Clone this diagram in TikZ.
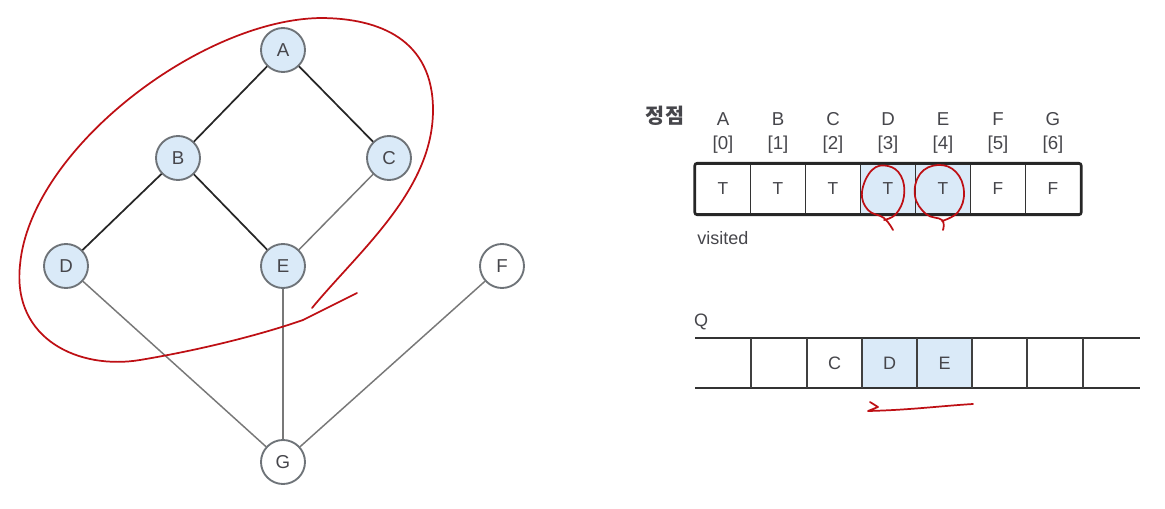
\documentclass[tikz,border=0pt]{standalone}
\usepackage{fontspec}
\setmainfont{Liberation Sans}
\newfontfamily\kr{Noto Sans CJK KR}
\definecolor{nodeblue}{RGB}{218,234,248}
\definecolor{ringgray}{RGB}{110,115,120}
\definecolor{txtgray}{RGB}{70,70,75}
\definecolor{edgegray}{RGB}{120,120,120}
\definecolor{pen}{RGB}{190,15,20}
\tikzset{
  vtx/.style={circle, draw=ringgray, line width=1.4pt, minimum size=33pt, inner sep=0pt, font=\fontsize{14}{14}\selectfont, text=txtgray},
  seen/.style={vtx, fill=nodeblue},
  unseen/.style={vtx, fill=white},
  darkedge/.style={draw=black!85, line width=1.3pt},
  lightedge/.style={draw=edgegray, line width=1.1pt},
  hdr/.style={font=\fontsize{14}{14}\selectfont, text=txtgray, inner sep=0pt},
  cellbox/.style={draw=black!80, line width=1.2pt, minimum width=41.25pt, minimum height=37.5pt, inner sep=0pt, font=\fontsize{13}{13}\selectfont, text=txtgray},
  qcell/.style={minimum width=41.25pt, minimum height=37.5pt, inner sep=0pt, font=\fontsize{13.5}{13.5}\selectfont, text=txtgray},
  redpen/.style={draw=pen, line width=1.3pt, line cap=round, line join=round}
}
\begin{document}
\begin{tikzpicture}[x=0.75pt, y=-0.75pt]
\useasboundingbox[fill=white] (0,0) rectangle (1165,508);
% graph
\node[seen] (A) at (283,50) {A};
\node[seen] (B) at (178,158) {B};
\node[seen] (C) at (389,158) {C};
\node[seen] (D) at (66,266) {D};
\node[seen] (E) at (283,266) {E};
\node[unseen] (F) at (502,266) {F};
\node[unseen] (G) at (283,462) {G};
\draw[darkedge] (A) -- (B);
\draw[darkedge] (A) -- (C);
\draw[darkedge] (B) -- (D);
\draw[darkedge] (B) -- (E);
\draw[lightedge] (C) -- (E);
\draw[lightedge] (D) -- (G);
\draw[lightedge] (E) -- (G);
\draw[lightedge] (F) -- (G);
% red loop around A-E
\draw[redpen] (312,308) .. controls (360,250) and (433,190) .. (433,110)
  .. controls (433,40) and (380,18) .. (320,18)
  .. controls (200,20) and (30,150) .. (20,265)
  .. controls (12,340) and (80,370) .. (140,360)
  .. controls (200,350) and (260,335) .. (303,320);
\draw[redpen] (303,320) -- (357,293);
% visited array
\node[font=\kr\bfseries\fontsize{15.5}{15.5}\selectfont, text=txtgray] (hd) at (665,116) {정점};
\foreach \l/\i [count=\k from 0] in {A/0,B/1,C/2,D/3,E/4,F/5,G/6}{
  \node[hdr] (n\k) at (723+55*\k,119) {\l};
  \node[hdr] (ix\k) at (723+55*\k,145) {[\i]};
}
\node[cellbox] (v0) at (723,189) {T};
\node[cellbox] (v1) at (778,189) {T};
\node[cellbox] (v2) at (833,189) {T};
\node[cellbox, fill=nodeblue] (v3) at (888,189) {T};
\node[cellbox, fill=nodeblue] (v4) at (943,189) {T};
\node[cellbox] (v5) at (998,189) {F};
\node[cellbox] (v6) at (1053,189) {F};
\draw[black!85, line width=2pt, rounded corners=2pt] (v0.north west) rectangle (v6.south east);
\node[font=\fontsize{13.5}{13.5}\selectfont, text=txtgray, anchor=west, inner sep=0pt] (vis) at (697,238) {visited};
% red loops on D and E
\draw[redpen] plot[smooth, tension=0.7] coordinates {(893,230) (884,218) (868,210) (862,192) (872,170) (888,166) (901,176) (904,196) (896,214) (884,220)};
\draw[redpen] plot[smooth, tension=0.7] coordinates {(943,230) (942,220) (926,214) (915,196) (920,174) (938,165) (956,172) (964,192) (958,212) (942,221)};
% queue
\node[font=\fontsize{13.5}{13.5}\selectfont, text=txtgray, inner sep=0pt] (Q) at (701,322) {Q};
\node[qcell] (q0) at (723,363) {};
\node[qcell] (q1) at (779,363) {};
\node[qcell] (q2) at (834.5,363) {C};
\node[qcell, fill=nodeblue] (q3) at (889.5,363) {D};
\node[qcell, fill=nodeblue] (q4) at (944.5,363) {E};
\node[qcell] (q5) at (999.5,363) {};
\node[qcell] (q6) at (1055,363) {};
\node[qcell] (q7) at (1111.5,363) {};
\draw[black!80, line width=1.3pt] (695,338) -- (1140,338);
\draw[black!80, line width=1.3pt] (695,388) -- (1140,388);
\foreach \x in {751,807,862,917,972,1027,1083}{
  \draw[black!75, line width=1.3pt] (\x,338) -- (\x,388);
}
% red underline
\draw[redpen] (870,402) -- (878,407) -- (868,411) .. controls (910,410) and (940,406) .. (973,404);
\end{tikzpicture}
\end{document}
